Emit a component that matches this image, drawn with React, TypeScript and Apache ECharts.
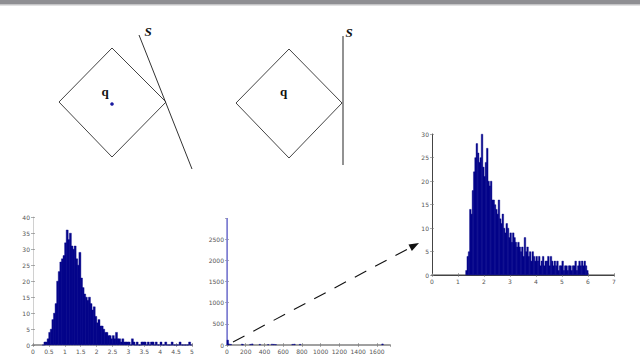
import React, { useEffect, useRef } from "react";
import * as echarts from "echarts";

// ---------- data ----------
// bottom-left histogram (bins of width 0.05 starting at 0.30)
const leftBinStart = 0.3;
const leftBinWidth = 0.05;
const leftCounts = [
  0, 1, 1, 2, 4, 5, 8, 10, 13, 20,
  23, 26, 27, 28, 32, 36, 33, 35, 31, 30,
  31, 27, 25, 29, 21, 18, 16, 15, 14, 15,
  13, 11, 12, 9, 7, 8, 6, 6, 5, 4,
  4, 3, 3, 2, 3, 2, 4, 2, 2, 1,
  2, 1, 1, 1, 1, 0, 2, 1, 0, 1,
  0, 0, 1, 1, 1, 0, 1, 0, 1, 1,
  0, 1, 0, 0, 1, 0, 0, 1, 0, 0,
  0, 1, 0, 0, 0, 0, 1, 0, 0, 0,
  0, 0, 1, 0,
];
const leftXTicks = [0, 5];
const leftYTicks = [0, 40];

// bottom-middle histogram
const midSpikeX = [0];
const midSpikeCounts = [3000];
const midX = [8, 20, 40, 160, 170, 250, 270, 350, 440, 480, 500, 520, 700, 720, 780, 1660];
const midCounts = [120, 30, 20, 25, 15, 20, 30, 20, 15, 25, 20, 15, 20, 25, 20, 30];
const midXTicks = [0, 1740];
const midYTicks = [0, 3000];

// right (zoomed) histogram (bins of width 0.05 starting at 1.30)
const rightBinStart = 1.3;
const rightBinWidth = 0.05;
const rightCounts = [
  1, 4, 5, 14, 13, 18, 22, 25, 28, 26,
  24, 25, 30, 23, 21, 24, 27, 20, 19, 20,
  16, 16, 15, 14, 13, 16, 12, 11, 13, 10,
  9, 11, 10, 8, 9, 7, 9, 8, 7, 6,
  7, 6, 5, 6, 4, 8, 5, 6, 4, 5,
  3, 5, 4, 3, 4, 3, 4, 2, 3, 4,
  2, 3, 3, 4, 2, 4, 3, 2, 3, 2,
  3, 1, 2, 2, 3, 1, 2, 2, 1, 2,
  2, 1, 2, 2, 3, 1, 2, 3, 2, 3,
  2, 3, 2, 1,
];
const rightXTicks = [0, 7];
const rightYTicks = [0, 30];

// ---------- helpers ----------
const binned = (start: number, width: number, counts: number[]) =>
  counts.map((c, i) => [+(start + width * (i + 0.5)).toFixed(3), c]);
const paired = (xs: number[], ys: number[]) => xs.map((x, i) => [x, ys[i]]);

const DARK = "#05058a";
const BAR_STYLE = { color: DARK, borderColor: DARK, borderWidth: 0.4 };
const LABEL = {
  fontSize: 6, color: "#555", fontFamily: "DejaVu Sans", margin: 3,
  formatter: (v: number) => String(v),
};

function mainAxes(grid: number, xr: number[], xi: number, yr: number[], yi: number, opts: any = {}) {
  const x = {
    type: "value", gridIndex: grid, min: xr[0], max: xr[1], interval: xi,
    axisLine: { show: true, onZero: false, lineStyle: { color: "#a0a0a0", width: 2 } },
    axisTick: { show: true, inside: true, length: 2, lineStyle: { color: "#777", width: 0.6 } },
    axisLabel: { ...LABEL, showMaxLabel: opts.xMax !== false },
    splitLine: { show: false },
  };
  const y = {
    type: "value", gridIndex: grid, min: yr[0], max: yr[1], interval: yi,
    axisLine: { show: true, lineStyle: { color: opts.yLine || "#d0d0d0", width: 1 } },
    axisTick: { show: true, inside: true, length: 2, lineStyle: { color: "#777", width: 0.6 } },
    axisLabel: { ...LABEL, showMaxLabel: opts.yMax !== false },
    splitLine: { show: false },
  };
  const xt = {
    type: "value", gridIndex: grid, position: "top", min: xr[0], max: xr[1], interval: xi,
    axisLine: { show: !!opts.topLine, lineStyle: { color: "#444", width: 1 } },
    axisTick: { show: true, inside: true, length: 2, lineStyle: { color: "#777", width: 0.6 } },
    axisLabel: { show: false }, splitLine: { show: false },
  };
  const yt = {
    type: "value", gridIndex: grid, position: "right", min: yr[0], max: yr[1], interval: yi,
    axisLine: { show: false },
    axisTick: { show: true, inside: true, length: 2, lineStyle: { color: "#777", width: 0.6 } },
    axisLabel: { show: false }, splitLine: { show: false },
  };
  return { x: [x, xt], y: [y, yt] };
}

export default function App() {
  const ref = useRef<HTMLDivElement>(null);
  useEffect(() => {
    if (!ref.current) return;
    const chart = echarts.init(ref.current, null, { renderer: "svg" });
    const a0 = mainAxes(0, leftXTicks, 0.5, leftYTicks, 5);
    const a1 = mainAxes(1, midXTicks, 200, midYTicks, 500, { xMax: false, yMax: false, yLine: "#ffffff" });
    const a2 = mainAxes(2, rightXTicks, 1, rightYTicks, 5, { topLine: true, yLine: "#444" });

    // arrow geometry (annotation)
    const sx = 233, sy = 342, tx = 419, ty = 243;
    const dx = tx - sx, dy = ty - sy;
    const len = Math.hypot(dx, dy);
    const ux = dx / len, uy = dy / len;
    const bx = tx - 10 * ux, by = ty - 10 * uy;
    const px = -uy, py = ux;

    const serif = "'Liberation Serif', 'DejaVu Serif', serif";

    chart.setOption({
      animation: false,
      backgroundColor: "#ffffff",
      grid: [
        { left: 33, top: 217, width: 159, height: 128 },
        { left: 227, top: 218, width: 163, height: 127 },
        { left: 432, top: 134, width: 182, height: 141 },
      ],
      xAxis: [...a0.x, ...a1.x, ...a2.x],
      yAxis: [...a0.y, ...a1.y, ...a2.y],
      series: [
        {
          type: "bar", xAxisIndex: 0, yAxisIndex: 0, barWidth: 2.4,
          itemStyle: BAR_STYLE, data: binned(leftBinStart, leftBinWidth, leftCounts),
        },
        {
          type: "bar", xAxisIndex: 2, yAxisIndex: 2, barWidth: 2, barGap: "-100%",
          itemStyle: { color: "#7f7fd2" }, data: paired(midSpikeX, midSpikeCounts),
        },
        {
          type: "bar", xAxisIndex: 2, yAxisIndex: 2, barWidth: 2, barGap: "-100%",
          itemStyle: BAR_STYLE, data: paired(midX, midCounts),
        },
        {
          type: "bar", xAxisIndex: 4, yAxisIndex: 4, barWidth: 2,
          itemStyle: BAR_STYLE, data: binned(rightBinStart, rightBinWidth, rightCounts),
        },
      ],
      graphic: [
        { type: "rect", shape: { x: 0, y: 0, width: 640, height: 4 }, style: { fill: "#8f8f93" } },
        { type: "rect", shape: { x: 0, y: 4, width: 640, height: 1.5 }, style: { fill: "#c4c4c6" } },
        // left diagram
        {
          type: "polygon",
          shape: { points: [[112, 48], [166, 102], [112, 157], [59, 102]] },
          style: { fill: "none", stroke: "#444", lineWidth: 1 },
        },
        { type: "line", shape: { x1: 139, y1: 35, x2: 192, y2: 169 }, style: { stroke: "#333", lineWidth: 1 } },
        {
          type: "text", x: 148, y: 31.5,
          style: { text: "S", font: `italic bold 13px ${serif}`, fill: "#111", align: "center", verticalAlign: "middle" },
        },
        {
          type: "text", x: 105, y: 91,
          style: { text: "q", font: `bold 13px ${serif}`, fill: "#111", align: "center", verticalAlign: "middle" },
        },
        { type: "circle", shape: { cx: 112, cy: 104, r: 1.8 }, style: { fill: "#1a1aa0" } },
        // middle diagram
        {
          type: "polygon",
          shape: { points: [[289, 49], [342, 103], [289, 158], [236, 103]] },
          style: { fill: "none", stroke: "#444", lineWidth: 1 },
        },
        { type: "line", shape: { x1: 343, y1: 36, x2: 343, y2: 165 }, style: { stroke: "#777", lineWidth: 1.6 } },
        {
          type: "text", x: 349, y: 32,
          style: { text: "S", font: `italic bold 13px ${serif}`, fill: "#111", align: "center", verticalAlign: "middle" },
        },
        {
          type: "text", x: 283.5, y: 91,
          style: { text: "q", font: `bold 13px ${serif}`, fill: "#111", align: "center", verticalAlign: "middle" },
        },
        // dashed arrow
        {
          type: "line", shape: { x1: sx, y1: sy, x2: bx, y2: by },
          style: { stroke: "#111", lineWidth: 1.1, lineDash: [13, 10] },
        },
        {
          type: "polygon",
          shape: { points: [[tx, ty], [bx + 3.6 * px, by + 3.6 * py], [bx - 3.6 * px, by - 3.6 * py]] },
          style: { fill: "#111" },
        },
      ],
    });
    return () => chart.dispose();
  }, []);
  return <div ref={ref} style={{ position: "fixed", left: 0, top: 0, width: 640, height: 354 }} />;
}
